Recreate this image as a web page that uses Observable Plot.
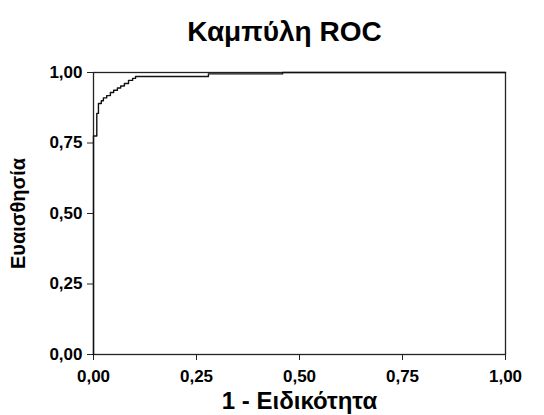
<!DOCTYPE html>
<html>
<head>
<meta charset="utf-8">
<script src="https://cdn.jsdelivr.net/npm/d3@7"></script>
<script src="https://cdn.jsdelivr.net/npm/@observablehq/plot@0.6"></script>
<style>
  body { margin: 0; background: #fff; font-family: "Liberation Sans", Arial, sans-serif; }
  #title { height: 50px; width: 544px; box-sizing: border-box; padding-left: 25px; text-align: center;
           font-weight: bold; font-size: 28px; line-height: 30px; padding-top: 17px; color: #000; }
</style>
</head>
<body>
<div id="title">Καμπύλη ROC</div>
<div id="chart"></div>
<script>
const titleText = "Καμπύλη ROC";
const xLabel = "1 - Ειδικότητα";
const yLabel = "Ευαισθησία";
const tickValues = [0, 0.25, 0.5, 0.75, 1];

// ROC curve corner points (1 - specificity, sensitivity)
const fpr = [0, 0, 0.008, 0.012, 0.019, 0.024, 0.032, 0.041, 0.049, 0.058, 0.066, 0.075, 0.085, 0.095, 0.102, 0.279, 0.459, 1];
const tpr = [0, 0.775, 0.855, 0.89, 0.90, 0.91, 0.918, 0.929, 0.937, 0.945, 0.952, 0.961, 0.972, 0.979, 0.986, 0.995, 1, 1];

const data = fpr.map((x, i) => ({x, y: tpr[i]}));
const fmt = d => d.toFixed(2).replace(".", ",");

const chart = Plot.plot({
  width: 544,
  height: 365,
  marginTop: 22,
  marginBottom: 61,
  marginLeft: 93,
  marginRight: 39,
  style: {fontFamily: "'Liberation Sans', Arial, sans-serif", fontWeight: "bold", color: "#000", background: "#fff"},
  x: {domain: [0, 1]},
  y: {domain: [0, 1]},
  marks: [
    Plot.frame({stroke: "#222", strokeWidth: 1.3}),
    Plot.axisX({ticks: tickValues, tickFormat: fmt, label: null, tickSize: 6, tickPadding: 9, fontSize: 17, fontWeight: "bold", stroke: "#222"}),
    Plot.axisY({ticks: tickValues, tickFormat: fmt, label: null, tickSize: 6, tickPadding: 5, fontSize: 17, fontWeight: "bold", stroke: "#222"}),
    Plot.line(data, {x: "x", y: "y", curve: "step-after", stroke: "#111", strokeWidth: 1.4}),
    Plot.text([xLabel], {frameAnchor: "bottom", dy: 47, fontSize: 24, fontWeight: "bold", lineAnchor: "middle", textAnchor: "middle", text: d => d}),
    Plot.text([yLabel], {frameAnchor: "left", dx: -75, rotate: -90, fontSize: 20, fontWeight: "bold", lineAnchor: "middle", textAnchor: "middle", text: d => d})
  ]
});
document.getElementById("chart").appendChild(chart);
</script>
</body>
</html>
